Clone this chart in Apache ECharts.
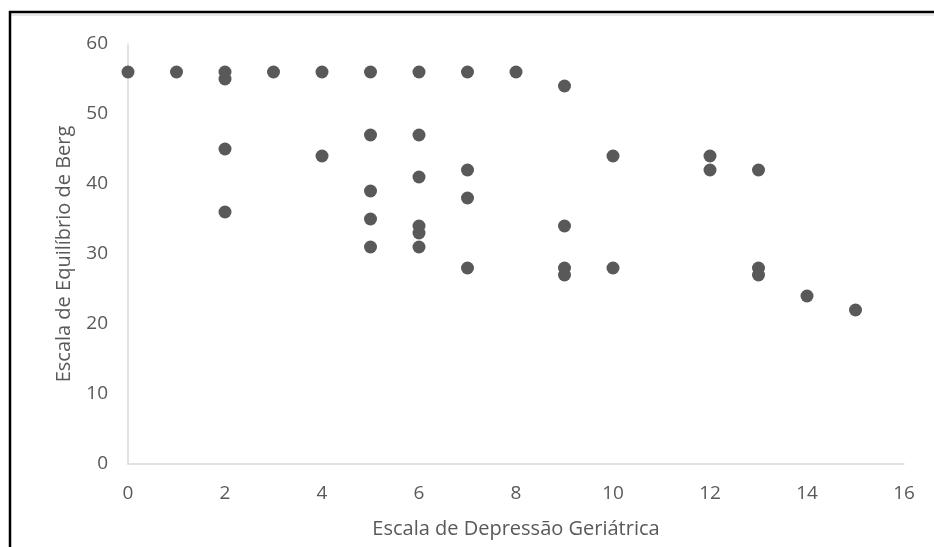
<!DOCTYPE html>
<html>
<head>
<meta charset="utf-8">
<script src="https://cdn.jsdelivr.net/npm/echarts@6/dist/echarts.min.js"></script>
<style>
html,body{margin:0;padding:0;background:#fff;}
#chart{width:934px;height:547px;}
</style>
</head>
<body>
<div id="chart"></div>
<script>
const gdsScores = [0,1,2,2,2,2,3,4,4,5,5,5,5,5,6,6,6,6,6,6,7,7,7,7,8,9,9,9,9,10,10,12,12,13,13,13,14,15];
const bergScores = [56,56,56,55,45,36,56,56,44,56,47,39,35,31,56,47,41,34,33,31,56,42,38,28,56,54,34,28,27,44,28,44,42,42,28,27,24,22];
const xTicks = [0,2,4,6,8,10,12,14,16];
const yTicks = [0,10,20,30,40,50,60];
const xTitle = 'Escala de Depressão Geriátrica';
const yTitle = 'Escala de Equilíbrio de Berg';

const points = gdsScores.map((x,i)=>[x,bergScores[i]]);
const font = 'Open Sans';
const chart = echarts.init(document.getElementById('chart'));
chart.setOption({
  animation:false,
  backgroundColor:'#fff',
  grid:{left:128,right:30,top:44,bottom:83},
  xAxis:{
    type:'value',min:xTicks[0],max:xTicks[xTicks.length-1],interval:2,
    name:xTitle,nameLocation:'middle',nameGap:55,
    nameTextStyle:{color:'#595959',fontSize:20,fontFamily:font},
    axisLine:{show:true,lineStyle:{color:'#d9d9d9',width:1.5}},
    axisTick:{show:false},
    splitLine:{show:false},
    axisLabel:{color:'#595959',fontSize:19,fontFamily:font,margin:20}
  },
  yAxis:{
    type:'value',min:yTicks[0],max:yTicks[yTicks.length-1],interval:10,
    name:yTitle,nameLocation:'middle',nameGap:54,nameRotate:90,
    nameTextStyle:{color:'#595959',fontSize:20,fontFamily:font},
    axisLine:{show:true,lineStyle:{color:'#d9d9d9',width:1.5}},
    axisTick:{show:false},
    splitLine:{show:false},
    axisLabel:{color:'#595959',fontSize:19,fontFamily:font,margin:20}
  },
  series:[{
    type:'scatter',data:points,symbolSize:13,
    itemStyle:{color:'#595959',opacity:1}
  }],
  graphic:[
    {type:'line',shape:{x1:10,y1:15,x2:934,y2:15},style:{stroke:'#e0e0e0',lineWidth:1.5},z:100},
    {type:'line',shape:{x1:9,y1:12,x2:934,y2:12},style:{stroke:'#000',lineWidth:2.5},z:101},
    {type:'line',shape:{x1:10,y1:11,x2:10,y2:547},style:{stroke:'#000',lineWidth:2.5},z:101}
  ]
});
</script>
</body>
</html>
